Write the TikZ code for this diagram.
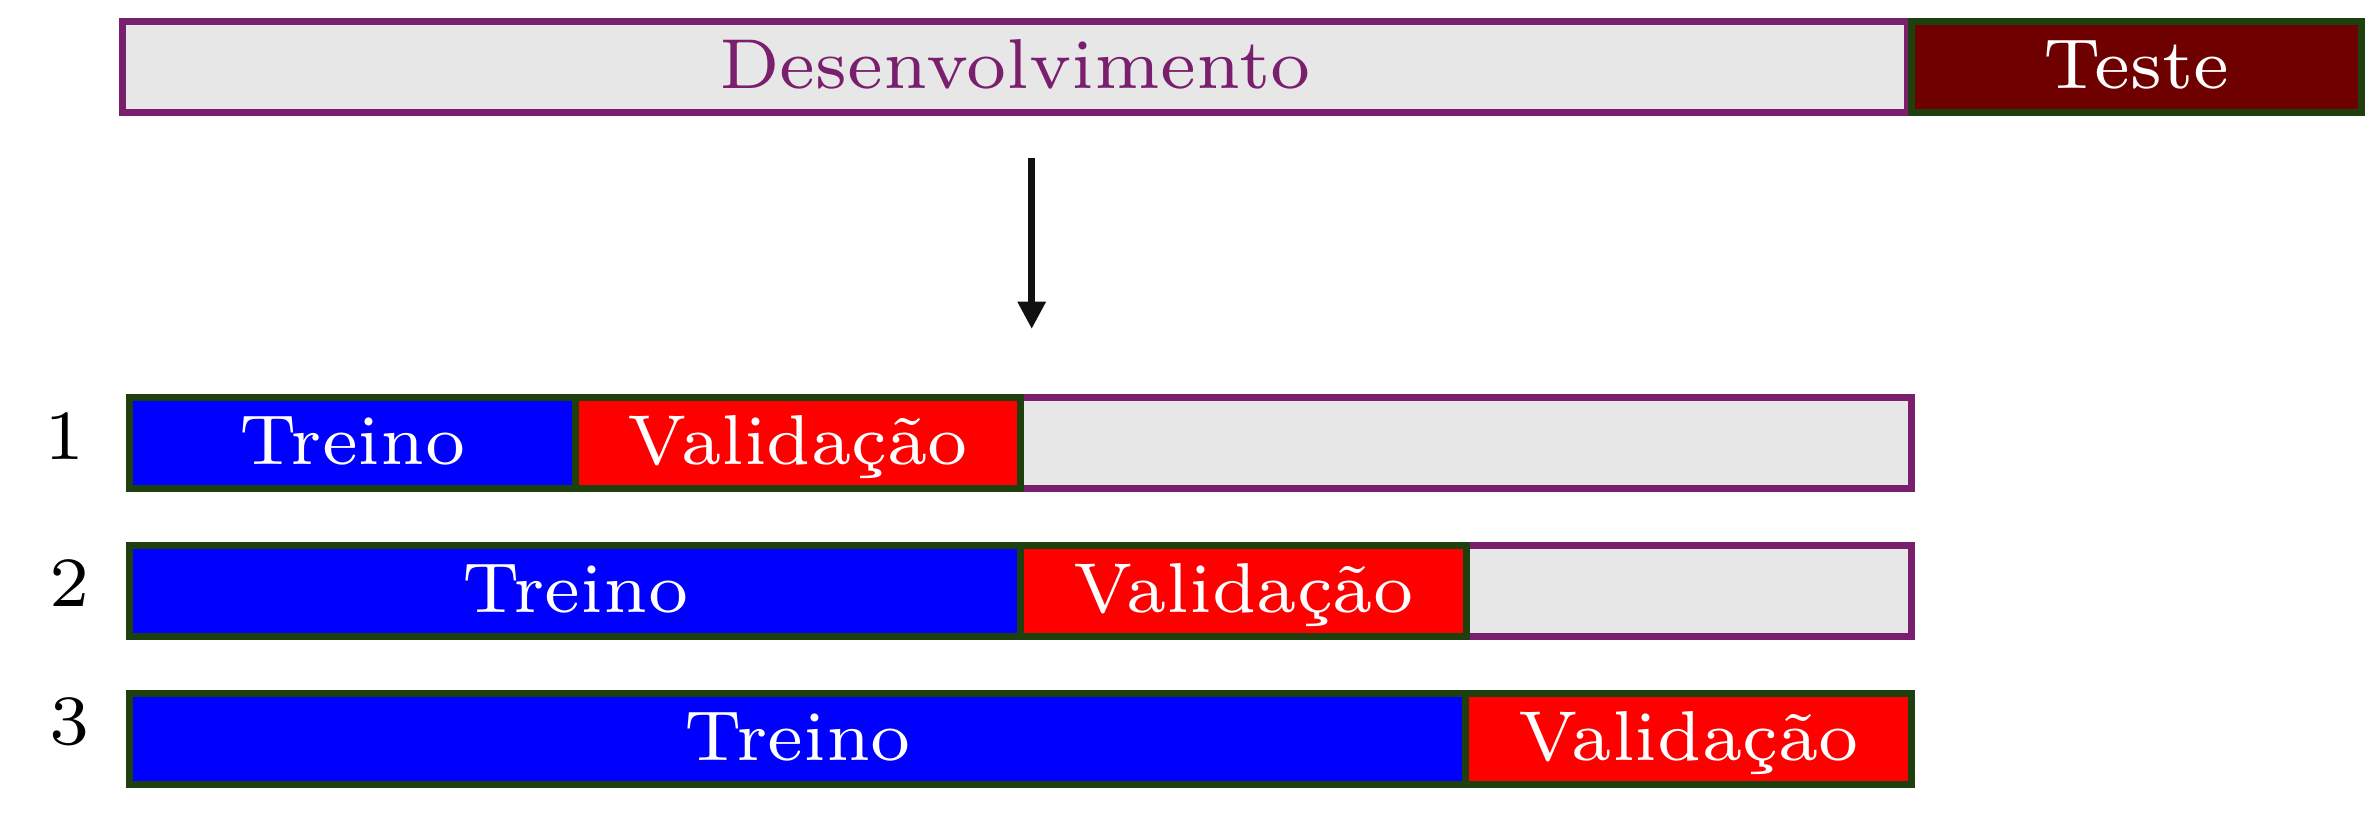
\documentclass[tikz,border=0pt]{standalone}
\usepackage{graphicx}
\usetikzlibrary{arrows.meta}
\definecolor{dpurple}{RGB}{122,31,110}
\definecolor{dgreen}{RGB}{30,64,15}
\definecolor{dmaroon}{RGB}{111,0,0}
\definecolor{lgrey}{RGB}{231,231,231}
\definecolor{arrowblack}{RGB}{17,17,17}
\newcommand{\lbl}[1]{\scalebox{2.87}{\fontsize{7}{8.4}\selectfont #1}}
\tikzset{
  seg/.style={draw, line width=0.07cm, inner sep=0pt, outer sep=0pt, minimum height=0.908cm,
    text height=0.5cm, text depth=0.068cm},
  restbox/.style={seg, draw=dpurple, fill=lgrey},
  trainbox/.style={seg, draw=dgreen, fill=blue, text=white},
  valbox/.style={seg, draw=dgreen, fill=red, text=white},
  devbox/.style={seg, draw=dpurple, fill=lgrey, text=dpurple, minimum height=0.91cm},
  testbox/.style={seg, draw=dgreen, fill=dmaroon, text=white, minimum height=0.91cm},
  numlab/.style={anchor=base, inner sep=0pt, text=black},
  bigarrow/.style={line width=0.067cm, draw=arrowblack, -{Triangle[width=0.267cm,length=0.273cm]}}
}
\begin{document}
\begin{tikzpicture}[x=0.01cm, y=-0.01cm]
\useasboundingbox (0,0) rectangle (2365,827);
% top bar
\node[devbox, minimum width=17.83cm] (dev) at (1015,67) {\lbl{Desenvolvimento}};
\node[testbox, minimum width=4.50cm] (test) at (2136.3,67) {\lbl{Teste}};
% arrow
\coordinate (arrS) at (1031.7,158.3);
\coordinate (arrE) at (1031.7,329);
\draw[bigarrow] (arrS) -- (arrE);
% row 1
\node[restbox, minimum width=8.909cm] (r1rest) at (1466.05,442.9) {};
\node[trainbox, minimum width=4.4545cm] (r1train) at (352.4,442.9) {\lbl{Treino}};
\node[valbox, minimum width=4.4545cm] (r1val) at (797.9,442.9) {\lbl{Validação}};
% row 2
\node[restbox, minimum width=4.4545cm] (r2rest) at (1688.8,590.8) {};
\node[trainbox, minimum width=8.909cm] (r2train) at (575.15,590.8) {\lbl{Treino}};
\node[valbox, minimum width=4.4545cm] (r2val) at (1243.3,590.8) {\lbl{Validação}};
% row 3
\node[trainbox, minimum width=13.3635cm] (r3train) at (797.9,738.7) {\lbl{Treino}};
\node[valbox, minimum width=4.4545cm] (r3val) at (1688.8,738.7) {\lbl{Validação}};
% numbers
\node[numlab] (n1) at (65,459) {\lbl{1}};
\node[numlab] (n2) at (70,606.7) {\lbl{2}};
\node[numlab] (n3) at (70,744) {\lbl{3}};
\end{tikzpicture}
\end{document}
